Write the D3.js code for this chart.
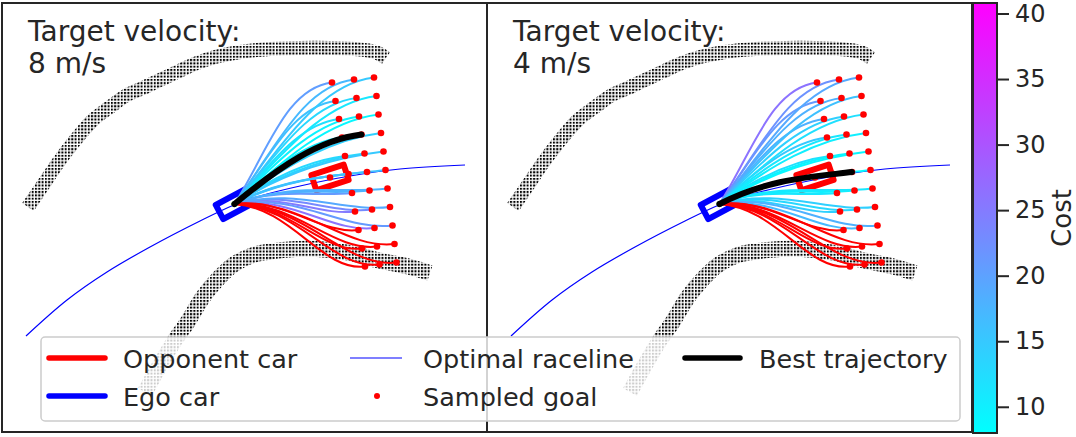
<!DOCTYPE html>
<html>
<head>
<meta charset="utf-8">
<script src="https://cdn.jsdelivr.net/npm/d3@7"></script>
<style>
  body { margin: 0; background: #fff; }
  svg { display: block; font-family: "DejaVu Sans", sans-serif; }
</style>
</head>
<body>
<svg id="chart" width="1076" height="437"></svg>
<script>
// ---- data (track frame, metres) ----
var velocities = [8, 4];

var egoPose = [23.25, 22.8, 28];        // x, y, heading (deg)
var opponentPose = [32.8, 25.45, 18];
var carSize = [3.4, 1.6];

var racelineX = [2.4, 6.5, 10.5, 14.8, 19.8, 23.2, 25.8, 29.8, 34.8, 39.8, 46.3];
var racelineY = [9.6, 13.2, 16.0, 18.5, 21.1, 22.7, 23.6, 24.6, 25.6, 26.3, 26.7];

var outerBoundX = [2.6, 4.1, 5.8, 7.5, 9.1, 10.8, 12.5, 14.1, 15.8, 17.5, 19.5, 21.3, 23.8, 26.8, 29.8, 32.8, 35.3, 37.3, 38.4];
var outerBoundY = [22.5, 24.7, 27.2, 29.4, 31.2, 32.5, 33.7, 34.4, 35.2, 36.0, 36.9, 37.5, 38.0, 38.3, 38.4, 38.4, 38.3, 38.0, 37.4];
var innerBoundX = [14.3, 15.8, 17.3, 18.5, 20.1, 21.5, 23.1, 25.1, 28.1, 31.5, 34.8, 37.5, 40.8, 42.8];
var innerBoundY = [4.0, 6.7, 9.2, 10.9, 13.5, 15.2, 16.7, 17.7, 18.2, 18.3, 17.9, 17.2, 16.5, 15.9];

// sampled goals: 11 lateral offsets x 3 horizons
var goalsNearX = [33.0, 33.35, 33.7, 34.0, 34.3, 34.65, 35.0, 35.3, 35.65, 36.0, 36.3];
var goalsNearY = [34.95, 33.1, 31.3, 29.45, 27.6, 25.8, 23.9, 22.05, 20.2, 18.35, 16.55];
var goalsMidX = [35.2, 35.45, 35.7, 35.95, 36.25, 36.5, 36.75, 37.0, 37.25, 37.5, 37.75];
var goalsMidY = [35.25, 33.4, 31.55, 29.75, 27.85, 26.0, 24.15, 22.25, 20.4, 18.55, 16.75];
var goalsFarX = [37.2, 37.45, 37.65, 37.9, 38.15, 38.35, 38.55, 38.8, 39.05, 39.25, 39.45];
var goalsFarY = [35.45, 33.6, 31.75, 29.9, 28.05, 26.2, 24.35, 22.5, 20.65, 18.8, 16.95];
var goalHeading = 7;

// trajectory costs (null = collision)
var costNear8 = [20.5, 16, 12, 10.5, 13, 15, 21, 25, null, null, null];
var costMid8  = [17, 13, 9.5, 9, 13, 16, 18, 23, 26, null, null];
var costFar8  = [15, 11, 9, 14, 15, 16, 18, 19, 21, null, null];
var costNear4 = [26, 21, 18, 15, 12, 10, 11, 14, null, null, null];
var costMid4  = [22, 18, 14, 11, 9.5, 8.5, 10, 13, 17, null, null];
var costFar4  = [19, 16, 12, 10, 9, 9, 11, 14, 18, null, null];
var bestRow = [3, 5];   // best goal is on the mid horizon

var costTicks = [10, 15, 20, 25, 30, 35, 40];
var costRange = [8.0, 40.8];
var legendLabels = ["Opponent car", "Ego car", "Optimal raceline", "Sampled goal", "Best trajectory"];

// ---- layout ----
var svg = d3.select("#chart");
var ink = "#262626";
var panelW = 485, panelH = 429, panelTop = 3;
var panelLeft = [2, 487];

var x = d3.scaleLinear().domain([0, 48.5]).range([0, panelW]);
var y = d3.scaleLinear().domain([0, 42.9]).range([panelH, 0]);
var costColor = d3.scaleLinear().domain(costRange).range(["#00ffff", "#ff00ff"]);

var defs = svg.append("defs");
defs.append("pattern")
  .attr("id", "grid")
  .attr("width", 3.3).attr("height", 3.3)
  .attr("patternUnits", "userSpaceOnUse")
  .append("rect").attr("width", 2).attr("height", 2).attr("fill", "#000");

defs.append("clipPath").attr("id", "panelClip")
  .append("rect").attr("width", panelW).attr("height", panelH);

var line = d3.line()
  .x(d => x(d[0]))
  .y(d => y(d[1]))
  .curve(d3.curveCatmullRom);

function zip(a, b) { return a.map((v, i) => [v, b[i]]); }

var rad = Math.PI / 180;
function trajPath(gx, gy) {
  var sx = egoPose[0], sy = egoPose[1];
  var dx = gx - sx, dy = gy - sy, d = Math.hypot(dx, dy);
  var chord = Math.atan2(dy, dx) / rad;
  var a0 = (egoPose[2] + 11 + 0.8 * (chord - egoPose[2])) * rad;
  var a1 = goalHeading * rad;
  var p = d3.path();
  p.moveTo(x(sx), y(sy));
  p.bezierCurveTo(
    x(sx + 0.4 * d * Math.cos(a0)), y(sy + 0.4 * d * Math.sin(a0)),
    x(gx - 0.3 * d * Math.cos(a1)), y(gy - 0.3 * d * Math.sin(a1)),
    x(gx), y(gy));
  return p.toString();
}

function drawCar(g, pose, color) {
  var w = x(carSize[0]) - x(0), h = x(carSize[1]) - x(0);
  g.append("rect")
    .attr("transform", `translate(${x(pose[0])},${y(pose[1])}) rotate(${-pose[2]})`)
    .attr("x", -w / 2).attr("y", -h / 2)
    .attr("width", w).attr("height", h)
    .attr("fill", "none")
    .attr("stroke", color)
    .attr("stroke-width", 6)
    .attr("stroke-linejoin", "round");
}

var panelCosts = [
  [costNear8, costMid8, costFar8],
  [costNear4, costMid4, costFar4]
];
var goalCols = [
  [goalsNearX, goalsNearY],
  [goalsMidX, goalsMidY],
  [goalsFarX, goalsFarY]
];

velocities.forEach(function(v, pi) {
  var panel = svg.append("g")
    .attr("transform", `translate(${panelLeft[pi]},${panelTop})`);
  var plot = panel.append("g").attr("clip-path", "url(#panelClip)");

  // track boundaries
  [[outerBoundX, outerBoundY, 14], [innerBoundX, innerBoundY, 16]].forEach(function(b) {
    plot.append("path")
      .attr("d", line(zip(b[0], b[1])))
      .attr("fill", "none")
      .attr("stroke", "url(#grid)")
      .attr("stroke-width", b[2]);
  });

  // raceline
  plot.append("path")
    .attr("d", line(zip(racelineX, racelineY)))
    .attr("fill", "none")
    .attr("stroke", "#0000ff")
    .attr("stroke-width", 1.2);

  drawCar(plot, opponentPose, "#ff0000");
  drawCar(plot, egoPose, "#0000ff");

  // trajectories
  var trajs = [];
  goalCols.forEach(function(gc, ci) {
    gc[0].forEach(function(gx, ri) {
      trajs.push({ gx: gx, gy: gc[1][ri], cost: panelCosts[pi][ci][ri], row: ri, col: ci });
    });
  });
  var isBest = t => t.col === 1 && t.row === bestRow[pi];
  var safe = trajs.filter(t => t.cost !== null && !isBest(t));
  var crash = trajs.filter(t => t.cost === null);

  plot.selectAll(".traj")
    .data(safe.concat(crash))
    .enter()
    .append("path")
    .attr("class", "traj")
    .attr("d", t => trajPath(t.gx, t.gy))
    .attr("fill", "none")
    .attr("stroke", t => t.cost === null ? "#ff0000" : costColor(t.cost))
    .attr("stroke-width", 2);

  plot.append("circle")
    .attr("cx", x(egoPose[0])).attr("cy", y(egoPose[1]))
    .attr("r", 3).attr("fill", "#007000");

  plot.selectAll(".goal")
    .data(trajs)
    .enter()
    .append("circle")
    .attr("class", "goal")
    .attr("cx", t => x(t.gx))
    .attr("cy", t => y(t.gy))
    .attr("r", 3.3)
    .attr("fill", "#ff0000");

  plot.append("circle")
    .attr("cx", x(opponentPose[0])).attr("cy", y(opponentPose[1]))
    .attr("r", 3.3).attr("fill", "#ff0000");

  var best = trajs.filter(isBest)[0];
  plot.append("path")
    .attr("d", trajPath(best.gx, best.gy))
    .attr("fill", "none")
    .attr("stroke", "#000")
    .attr("stroke-width", 6)
    .attr("stroke-linecap", "round");

  // title
  var title = panel.append("text")
    .attr("x", 26).attr("y", 37.7)
    .attr("font-size", 28)
    .attr("fill", ink);
  title.append("tspan").attr("x", 26).text("Target velocity:");
  title.append("tspan").attr("x", 26).attr("dy", 32.5).text(v + " m/s");

  panel.append("rect")
    .attr("width", panelW).attr("height", panelH)
    .attr("fill", "none")
    .attr("stroke", ink)
    .attr("stroke-width", 2);
});

// ---- legend ----
var legend = svg.append("g");
legend.append("rect")
  .attr("x", 41).attr("y", 337)
  .attr("width", 919).attr("height", 84)
  .attr("rx", 4)
  .attr("fill", "#fff").attr("fill-opacity", 0.8)
  .attr("stroke", "#cccccc").attr("stroke-width", 1.5);

var legendItems = [
  { col: 0, row: 0, kind: "line", color: "#ff0000", w: 5.5 },
  { col: 0, row: 1, kind: "line", color: "#0000ff", w: 5.5 },
  { col: 1, row: 0, kind: "line", color: "#0000ff", w: 1.2 },
  { col: 1, row: 1, kind: "dot", color: "#ff0000" },
  { col: 2, row: 0, kind: "line", color: "#000", w: 5.5 }
];
var handleX = [[49, 105], [350, 402], [685, 740]];
var labelX = [123, 423, 759];
var rowY = [358, 396];

legendItems.forEach(function(it, i) {
  var hx = handleX[it.col];
  if (it.kind === "line") {
    legend.append("line")
      .attr("x1", hx[0]).attr("x2", hx[1])
      .attr("y1", rowY[it.row]).attr("y2", rowY[it.row])
      .attr("stroke", it.color)
      .attr("stroke-width", it.w)
      .attr("stroke-linecap", it.w > 2 ? "round" : "butt");
  } else {
    legend.append("circle")
      .attr("cx", (hx[0] + hx[1]) / 2 + 1).attr("cy", rowY[it.row])
      .attr("r", 3).attr("fill", it.color);
  }
  legend.append("text")
    .attr("x", labelX[it.col])
    .attr("y", rowY[it.row] + 9.5)
    .attr("font-size", 25.5)
    .attr("fill", ink)
    .text(legendLabels[i]);
});

// ---- colorbar ----
var cbX = 973, cbW = 24, cbTop = 3, cbBottom = 433;
var grad = defs.append("linearGradient")
  .attr("id", "costGrad")
  .attr("x1", 0).attr("x2", 0).attr("y1", 1).attr("y2", 0);
grad.append("stop").attr("offset", 0).attr("stop-color", costColor(costRange[0]));
grad.append("stop").attr("offset", 1).attr("stop-color", costColor(costRange[1]));

svg.append("rect")
  .attr("x", cbX).attr("y", cbTop)
  .attr("width", cbW).attr("height", cbBottom - cbTop)
  .attr("fill", "url(#costGrad)")
  .attr("stroke", ink).attr("stroke-width", 2);

var cbScale = d3.scaleLinear().domain(costRange).range([cbBottom, cbTop]);
var cbAxis = svg.append("g")
  .attr("transform", `translate(${cbX + cbW},0)`)
  .call(d3.axisRight(cbScale).tickValues(costTicks).tickSize(12).tickPadding(6));
cbAxis.select(".domain").remove();
cbAxis.selectAll(".tick line").attr("stroke", ink).attr("stroke-width", 2);
cbAxis.selectAll(".tick text")
  .attr("font-size", 24)
  .attr("font-family", "DejaVu Sans")
  .attr("fill", ink);

svg.append("text")
  .attr("transform", "translate(1071,218) rotate(-90)")
  .attr("text-anchor", "middle")
  .attr("font-size", 26)
  .attr("fill", ink)
  .text("Cost");
</script>
</body>
</html>
